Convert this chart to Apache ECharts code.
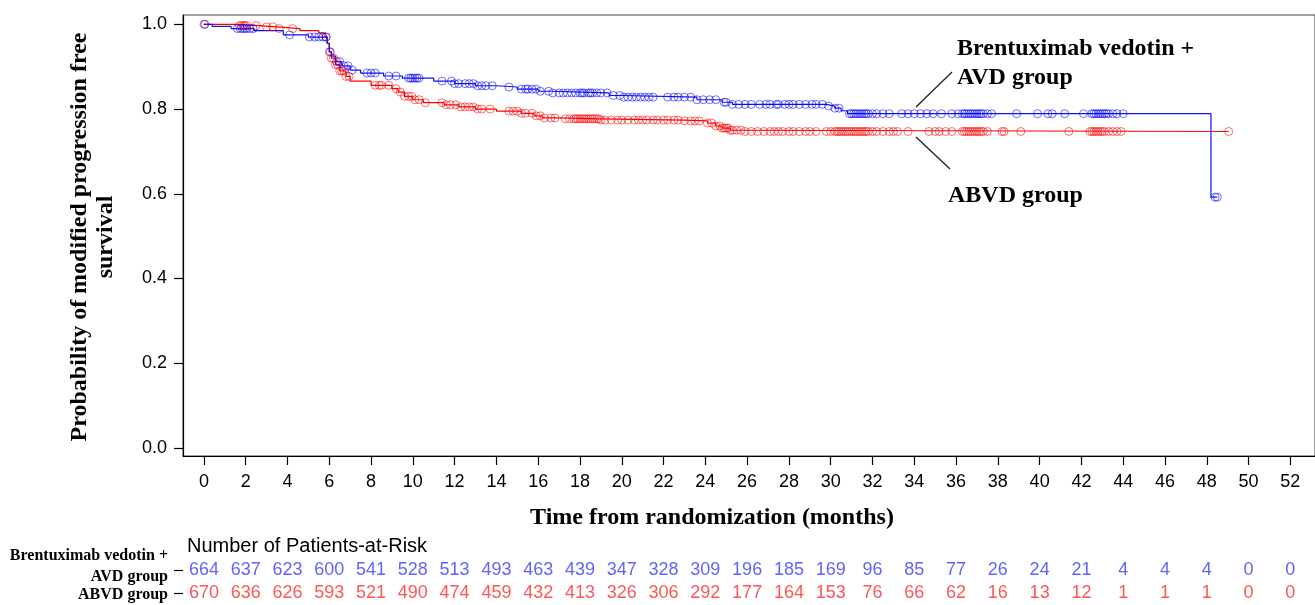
<!DOCTYPE html>
<html>
<head>
<meta charset="utf-8">
<script src="https://cdn.jsdelivr.net/npm/echarts@6/dist/echarts.min.js"></script>
<style>html,body{margin:0;padding:0;background:#fff}#c{width:1315px;height:605px}</style>
</head>
<body>
<div id="c"></div>
<script>
// ---- data ----
var xTicks = [0,2,4,6,8,10,12,14,16,18,20,22,24,26,28,30,32,34,36,38,40,42,44,46,48,50,52];
var yTicks = [0,0.2,0.4,0.6,0.8,1.0];

// KM steps: [time, survival from this time on]
var bvSteps = [[0,1.0],[0.4,0.995],[1.3,0.99],[2.4,0.985],[3.8,0.975],[5.0,0.97],[5.9,0.955],[6.0,0.935],[6.1,0.925],[6.3,0.912],[6.6,0.902],[7.0,0.892],[7.5,0.885],[8.6,0.878],[9.5,0.873],[11.0,0.866],[12.0,0.86],[13.0,0.855],[14.0,0.852],[15.0,0.847],[16.0,0.842],[16.6,0.838],[19.4,0.832],[20.0,0.828],[23.6,0.822],[24.8,0.816],[25.3,0.811],[29.8,0.807],[30.2,0.802],[30.5,0.796],[30.8,0.789],[48.2,0.592]];
var bvEnd = 48.5;
var abvdSteps = [[0,1.0],[1.6,0.997],[2.6,0.994],[3.5,0.99],[4.6,0.985],[5.5,0.98],[5.8,0.97],[5.9,0.955],[6.0,0.935],[6.1,0.92],[6.3,0.905],[6.5,0.89],[6.8,0.877],[7.0,0.866],[8.0,0.856],[9.0,0.848],[9.3,0.84],[9.6,0.83],[10.0,0.822],[10.5,0.815],[11.5,0.81],[12.2,0.805],[13.0,0.8],[14.0,0.795],[15.2,0.79],[15.8,0.784],[16.2,0.779],[17.0,0.777],[19.0,0.774],[23.0,0.772],[24.1,0.767],[24.5,0.76],[24.8,0.755],[25.2,0.75],[25.8,0.747]];
var abvdEnd = 49.05;

// censoring times
var bvCensor = [0.05,1.6,1.75,1.85,1.95,2.05,2.2,2.35,4.1,5.05,5.3,5.5,5.7,5.85,6.05,6.35,6.5,6.7,6.9,7.1,7.8,8.0,8.2,8.85,9.2,9.8,9.9,10.0,10.1,10.2,10.3,11.4,11.85,12.0,12.2,12.5,12.7,12.9,13.1,13.3,13.5,13.8,14.6,15.2,15.4,15.5,15.7,15.9,16.1,16.5,16.7,17.0,17.2,17.4,17.6,17.8,18.0,18.1,18.2,18.4,18.5,18.6,18.8,19.0,19.3,19.6,19.9,20.1,20.3,20.5,20.7,20.9,21.1,21.3,21.5,22.2,22.5,22.7,23.0,23.3,23.6,23.9,24.2,24.5,24.9,25.0,25.3,25.6,25.9,26.2,26.6,26.9,27.1,27.4,27.5,27.8,28.0,28.2,28.5,28.8,29.1,29.3,29.6,29.9,30.2,30.4,30.9,31.0,31.1,31.2,31.3,31.4,31.5,31.6,31.7,31.8,32.0,32.2,32.5,32.8,33.4,33.7,34.0,34.3,34.6,34.9,35.3,35.8,36.1,36.3,36.4,36.5,36.6,36.7,36.8,36.9,37.0,37.1,37.2,37.3,37.5,37.7,38.9,39.9,40.4,40.6,41.2,42.1,42.5,42.6,42.7,42.8,42.9,43.0,43.1,43.2,43.3,43.5,43.7,44.0,48.4,48.5];
var abvdCensor = [0.0,1.7,1.8,1.9,1.95,2.05,2.5,3.0,3.3,3.6,4.25,5.85,6.0,6.1,6.2,6.3,6.4,6.5,6.6,6.7,6.8,6.95,8.2,8.4,8.5,8.85,9.2,9.4,9.6,9.8,9.95,10.1,10.3,10.6,11.4,11.6,11.8,12.05,12.3,12.5,12.7,12.9,13.1,13.3,13.7,14.6,14.8,15.0,15.2,15.4,15.7,15.9,16.1,16.3,16.6,16.8,17.3,17.5,17.7,17.8,17.9,18.0,18.1,18.2,18.3,18.4,18.5,18.6,18.7,18.8,18.9,19.0,19.2,19.5,19.8,20.0,20.3,20.6,20.8,21.0,21.2,21.5,21.7,22.0,22.2,22.5,22.7,23.0,23.3,23.5,23.7,24.1,24.3,24.5,24.7,24.8,24.9,25.0,25.1,25.2,25.3,25.5,25.7,25.9,26.2,26.5,26.8,27.1,27.3,27.5,27.7,28.0,28.2,28.5,28.8,29.0,29.3,29.8,30.0,30.2,30.3,30.4,30.5,30.6,30.7,30.8,30.9,31.0,31.1,31.2,31.3,31.4,31.5,31.6,31.7,31.8,32.0,32.2,32.5,32.8,33.0,33.2,33.7,34.7,35.0,35.2,35.5,35.8,36.3,36.4,36.5,36.6,36.7,36.8,36.9,37.0,37.1,37.2,37.3,37.5,38.2,38.3,39.1,41.4,42.4,42.5,42.6,42.7,42.8,42.9,43.0,43.1,43.3,43.5,43.7,43.9,49.05];

// Number at risk (at each x tick)
var bvRisk = [664,637,623,600,541,528,513,493,463,439,347,328,309,196,185,169,96,85,77,26,24,21,4,4,4,0,0];
var abvdRisk = [670,636,626,593,521,490,474,459,432,413,326,306,292,177,164,153,76,66,62,16,13,12,1,1,1,0,0];

var bvName = 'Brentuximab vedotin + AVD group';
var abvdName = 'ABVD group';

// ---- helpers ----
function levelAt(steps, t){ var v = steps[0][1]; for (var i=0;i<steps.length;i++){ if (steps[i][0] <= t) v = steps[i][1]; } return v; }
function stepLine(steps, end){ var d = steps.slice(); d.push([end, steps[steps.length-1][1]]); return d; }
function censorPts(times, steps){ return times.map(function(t){ return [t, levelAt(steps, t)]; }); }
function riskPts(arr, cat){ return arr.map(function(v,i){ return [xTicks[i], cat, v]; }); }

var XMIN = -1, XMAX = 53.18;
var BLUE = '#1010ff', RED = '#ff0000';
var sans = '"Liberation Sans", Arial, sans-serif';
var serif = '"Liberation Serif", "Times New Roman", serif';

var chart = echarts.init(document.getElementById('c'), null, {renderer:'canvas'});
chart.setOption({
  animation: false,
  grid: [
    {left:183, top:15, width:1140, height:441, show:true, borderColor:'#444', borderWidth:1},
    {left:183, top:558, width:1140, height:48}
  ],
  xAxis: [
    {type:'value', gridIndex:0, min:XMIN, max:XMAX,
     axisLine:{show:true, onZero:false, lineStyle:{color:'#000', width:1.2}},
     axisTick:{show:true, customValues:xTicks, length:9, lineStyle:{color:'#000', width:1.2}},
     axisLabel:{show:true, customValues:xTicks, margin:17, fontSize:18, fontFamily:sans, color:'#000'},
     splitLine:{show:false}},
    {type:'value', gridIndex:1, min:XMIN, max:XMAX, show:false, axisLine:{onZero:false}}
  ],
  yAxis: [
    {type:'value', gridIndex:0, min:-0.019, max:1.022,
     axisLine:{show:true, onZero:false, lineStyle:{color:'#000', width:1.2}},
     axisTick:{show:true, customValues:yTicks, length:9, lineStyle:{color:'#000', width:1.2}},
     axisLabel:{show:true, customValues:yTicks, margin:16, fontSize:18, fontFamily:sans, color:'#000',
                formatter:function(v){return v.toFixed(1);}},
     splitLine:{show:false}},
    {type:'category', gridIndex:1, data:['ABVD','BV'],
     axisLine:{show:false, onZero:false},
     axisTick:{show:true, alignWithLabel:true, length:9, lineStyle:{color:'#000', width:1.2}},
     axisLabel:{show:false}, splitLine:{show:false}}
  ],
  series: [
    {name:abvdName, type:'line', xAxisIndex:0, yAxisIndex:0, step:'end', data:stepLine(abvdSteps, abvdEnd),
     showSymbol:false, lineStyle:{color:RED, width:1.2}, z:2},
    {name:bvName, type:'line', xAxisIndex:0, yAxisIndex:0, step:'end', data:stepLine(bvSteps, bvEnd),
     showSymbol:false, lineStyle:{color:BLUE, width:1.2}, z:3},
    {name:abvdName+' censored', type:'scatter', xAxisIndex:0, yAxisIndex:0, data:censorPts(abvdCensor, abvdSteps),
     symbol:'circle', symbolSize:8, itemStyle:{color:'rgba(0,0,0,0)', borderColor:'rgba(255,0,0,0.7)', borderWidth:1}, z:4},
    {name:bvName+' censored', type:'scatter', xAxisIndex:0, yAxisIndex:0, data:censorPts(bvCensor, bvSteps),
     symbol:'circle', symbolSize:8, itemStyle:{color:'rgba(0,0,0,0)', borderColor:'rgba(0,0,255,0.7)', borderWidth:1}, z:5},
    {name:'bv risk', type:'scatter', xAxisIndex:1, yAxisIndex:1, data:riskPts(bvRisk,'BV'), symbolSize:1,
     itemStyle:{color:'rgba(0,0,0,0)'},
     label:{show:true, position:'inside', formatter:function(p){return p.value[2];}, fontSize:18, fontFamily:sans, color:'#3a3aff'}},
    {name:'abvd risk', type:'scatter', xAxisIndex:1, yAxisIndex:1, data:riskPts(abvdRisk,'ABVD'), symbolSize:1,
     itemStyle:{color:'rgba(0,0,0,0)'},
     label:{show:true, position:'inside', formatter:function(p){return p.value[2];}, fontSize:18, fontFamily:sans, color:'#ff2a2a'}}
  ],
  graphic: [
    {type:'text', x:93, y:237, rotation:Math.PI/2, style:{text:'Probability of modified progression free\nsurvival', font:'bold 24px '+serif, fill:'#000', textAlign:'center', textVerticalAlign:'middle', lineHeight:26}},
    {type:'text', x:712, y:518, style:{text:'Time from randomization (months)', font:'bold 24px '+serif, fill:'#000', textAlign:'center', textVerticalAlign:'middle'}},
    {type:'text', x:957, y:49, style:{text:'Brentuximab vedotin +', font:'bold 24px '+serif, fill:'#000', textAlign:'left', textVerticalAlign:'middle'}},
    {type:'text', x:957, y:78, style:{text:'AVD group', font:'bold 24px '+serif, fill:'#000', textAlign:'left', textVerticalAlign:'middle'}},
    {type:'text', x:948, y:196, style:{text:'ABVD group', font:'bold 24px '+serif, fill:'#000', textAlign:'left', textVerticalAlign:'middle'}},
    {type:'line', shape:{x1:916, y1:107, x2:952, y2:72}, style:{stroke:'#222', lineWidth:1.3}},
    {type:'line', shape:{x1:916, y1:137, x2:950, y2:169}, style:{stroke:'#222', lineWidth:1.3}},
    {type:'text', x:187, y:546, style:{text:'Number of Patients-at-Risk', font:'20px '+sans, fill:'#000', textAlign:'left', textVerticalAlign:'middle'}},
    {type:'text', x:168, y:556, style:{text:'Brentuximab vedotin +', font:'bold 16px '+serif, fill:'#000', textAlign:'right', textVerticalAlign:'middle'}},
    {type:'text', x:168, y:577, style:{text:'AVD group', font:'bold 16px '+serif, fill:'#000', textAlign:'right', textVerticalAlign:'middle'}},
    {type:'text', x:168, y:595, style:{text:'ABVD group', font:'bold 16px '+serif, fill:'#000', textAlign:'right', textVerticalAlign:'middle'}}
  ]
});
</script>
</body>
</html>
